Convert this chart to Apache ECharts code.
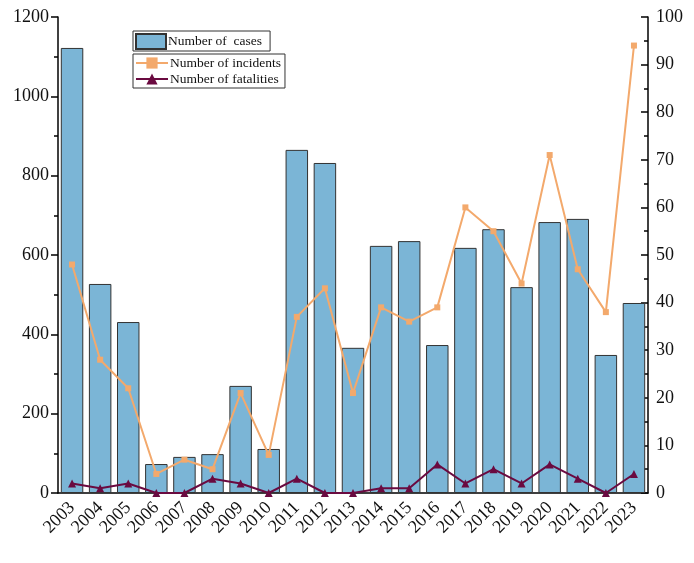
<!DOCTYPE html>
<html>
<head>
<meta charset="utf-8">
<script src="https://cdn.jsdelivr.net/npm/echarts@6/dist/echarts.min.js"></script>
<style>
  html, body { margin: 0; padding: 0; background: #fff; }
  #chart { width: 694px; height: 563px; }
</style>
</head>
<body>
<div id="chart"></div>
<script>
const years = ['2003', '2004', '2005', '2006', '2007', '2008', '2009', '2010', '2011', '2012',
    '2013', '2014', '2015', '2016', '2017', '2018', '2019', '2020', '2021', '2022', '2023']
const cases = [1122, 527, 431, 73, 91, 98, 270, 111, 865, 832, 366, 623, 635, 373, 618, 665, 519, 683, 691, 348, 479]
const incidents = [48, 28, 22, 4, 7, 5, 21, 8, 37, 43, 21, 39, 36, 39, 60, 55, 44, 71, 47, 38, 94]
const fatalities = [2, 1, 2, 0, 0, 3, 2, 0, 3, 0, 0, 1, 1, 6, 2, 5, 2, 6, 3, 0, 4]

const font = 'Liberation Serif'
const chart = echarts.init(document.getElementById('chart'))

const options = {
    animation: false,
    textStyle: { fontFamily: font },
    grid: { left: 58, right: 46, top: 17, bottom: 70 },
    legend: [
        {
            data: [{ name: 'Number of  cases', icon: 'rect' }],
            left: 133, top: 31,
            padding: [2, 8, 1, 2],
            itemGap: 2,
            itemWidth: 30, itemHeight: 15,
            borderColor: '#333', borderWidth: 1,
            textStyle: { fontFamily: font, fontSize: 13.5, color: '#111', padding: [0, 0, 0, -3] }
        },
        {
            data: ['Number of incidents', 'Number of fatalities'],
            orient: 'vertical',
            left: 133, top: 54,
            padding: [2, 4, 2, 2],
            itemGap: 2,
            itemWidth: 32, itemHeight: 14,
            borderColor: '#333', borderWidth: 1,
            textStyle: { fontFamily: font, fontSize: 13.5, color: '#111', padding: [0, 0, 0, -3] }
        }
    ],
    xAxis: {
        type: 'category',
        data: years,
        axisLine: { lineStyle: { color: '#000', width: 1.5 } },
        axisTick: { alignWithLabel: true, length: 7, lineStyle: { color: '#000', width: 1.5 } },
        axisLabel: { rotate: 45, fontFamily: font, fontSize: 18, color: '#111', margin: 12, interval: 0 }
    },
    yAxis: [
        {
            type: 'value',
            min: 0, max: 1200, interval: 200,
            axisLine: { show: true, lineStyle: { color: '#000', width: 1.5 } },
            axisTick: { show: true, length: 7, lineStyle: { color: '#000', width: 1.5 } },
            minorTick: { show: true, splitNumber: 2, length: 4, lineStyle: { color: '#000', width: 1.5 } },
            splitLine: { show: false },
            axisLabel: { fontFamily: font, fontSize: 18, color: '#111', margin: 9, formatter: v => String(v) }
        },
        {
            type: 'value',
            min: 0, max: 100, interval: 10,
            axisLine: { show: true, lineStyle: { color: '#000', width: 1.5 } },
            axisTick: { show: true, inside: true, length: 7, lineStyle: { color: '#000', width: 1.5 } },
            minorTick: { show: true, splitNumber: 2, length: 4, lineStyle: { color: '#000', width: 1.5 } },
            splitLine: { show: false },
            axisLabel: { fontFamily: font, fontSize: 18, color: '#111', margin: 8 }
        }
    ],
    series: [
        {
            name: 'Number of  cases',
            type: 'bar',
            data: cases,
            barWidth: '80%',
            itemStyle: { color: '#7bb5d6', borderColor: '#333', borderWidth: 1 }
        },
        {
            name: 'Number of incidents',
            type: 'line',
            yAxisIndex: 1,
            data: incidents,
            symbol: 'rect',
            symbolSize: 6,
            lineStyle: { color: '#f3a96c', width: 2 },
            itemStyle: { color: '#f3a96c' }
        },
        {
            name: 'Number of fatalities',
            type: 'line',
            yAxisIndex: 1,
            data: fatalities,
            symbol: 'triangle',
            symbolSize: 8,
            lineStyle: { color: '#6a0a40', width: 2 },
            itemStyle: { color: '#6a0a40' }
        }
    ]
}

chart.setOption(options)
</script>
</body>
</html>
